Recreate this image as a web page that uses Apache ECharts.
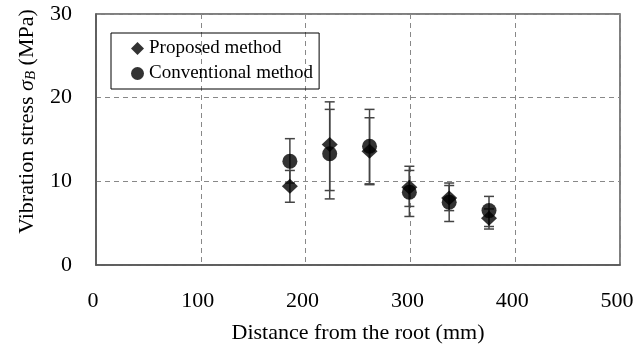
<!DOCTYPE html>
<html>
<head>
<meta charset="UTF-8">
<title>vibration stress</title>
<script src="https://cdn.jsdelivr.net/npm/echarts@6/dist/echarts.min.js"></script>
<style>
    html, body { margin: 0; padding: 0; background: #fff; }
    #main { width: 644px; height: 350px; }
</style>
</head>
<body>
<div id="main"></div>
<script type="text/javascript">
    // distance from the root (mm)
    var distance = [185, 223, 261, 299, 337, 375];

    // proposed method: value and error bar ends (MPa)
    var proposed     = [9.4, 14.4, 13.6, 9.3, 8.0, 5.6];
    var proposedLow  = [7.5, 8.9, 9.7, 7.0, 6.5, 4.3];
    var proposedHigh = [11.3, 19.5, 17.6, 11.3, 9.5, 6.7];

    // conventional method
    var conventional     = [12.4, 13.3, 14.2, 8.7, 7.5, 6.5];
    var conventionalLow  = [9.8, 7.9, 9.6, 5.8, 5.2, 4.6];
    var conventionalHigh = [15.1, 18.6, 18.6, 11.8, 9.8, 8.2];

    var xTicks = [0, 100, 200, 300, 400, 500];
    var yTicks = [0, 10, 20, 30];

    var font = '"Liberation Serif", "Times New Roman", serif';

    function pairs(xs, ys) {
        return xs.map(function (x, i) { return [x, ys[i]]; });
    }

    function errorBars(lows, highs) {
        return {
            type: 'custom',
            silent: true,
            z: 1,
            encode: { x: 0, y: [1, 2] },
            renderItem: function (params, api) {
                var x = api.value(0);
                var lo = api.coord([x, api.value(1)]);
                var hi = api.coord([x, api.value(2)]);
                var w = 5;
                var st = { stroke: '#444', lineWidth: 1.5 };
                return {
                    type: 'group',
                    children: [
                        { type: 'line', shape: { x1: lo[0], y1: lo[1], x2: hi[0], y2: hi[1] }, style: st },
                        { type: 'line', shape: { x1: lo[0] - w, y1: lo[1], x2: lo[0] + w, y2: lo[1] }, style: st },
                        { type: 'line', shape: { x1: hi[0] - w, y1: hi[1], x2: hi[0] + w, y2: hi[1] }, style: st }
                    ]
                };
            },
            data: distance.map(function (d, i) { return [d, lows[i], highs[i]]; })
        };
    }

    var myChart = echarts.init(document.getElementById('main'));
    myChart.setOption({
        animation: false,
        textStyle: { fontFamily: font, color: '#000' },
        grid: {
            left: 96, right: 24, top: 14, bottom: 85,
            show: true, borderColor: '#555', borderWidth: 1.5
        },
        legend: {
            data: ['Proposed method', 'Conventional method'],
            orient: 'vertical',
            left: 111, top: 33,
            padding: [6, 6, 6, 20],
            itemGap: 6,
            itemWidth: 13, itemHeight: 13,
            borderColor: '#000', borderWidth: 1,
            textStyle: { fontFamily: font, fontSize: 19, color: '#000' }
        },
        xAxis: {
            type: 'value',
            min: xTicks[0], max: xTicks[xTicks.length - 1], interval: 100,
            name: 'Distance from the root (mm)',
            nameLocation: 'middle', nameGap: 57,
            nameTextStyle: { fontFamily: font, fontSize: 22, color: '#000' },
            axisLine: { lineStyle: { color: '#555', width: 1.5 } },
            axisTick: { show: false },
            axisLabel: { margin: 25, fontSize: 22, color: '#000', fontFamily: font, padding: [0, 6, 0, 0] },
            splitLine: { lineStyle: { type: [5, 4], color: '#888', width: 1 } }
        },
        yAxis: {
            type: 'value',
            min: yTicks[0], max: yTicks[yTicks.length - 1], interval: 10,
            name: 'Vibration stress {i|σ}{sub|B} (MPa)',
            nameLocation: 'middle', nameGap: 57,
            nameTextStyle: {
                fontFamily: font, fontSize: 22, color: '#000',
                padding: [0, 0, 0, 36],
                rich: {
                    i: { fontFamily: font, fontSize: 22, fontStyle: 'italic', color: '#000' },
                    sub: { fontFamily: font, fontSize: 15, fontStyle: 'italic', color: '#000', verticalAlign: 'bottom', padding: [8, 0, 0, 0] }
                }
            },
            axisLine: { show: true, lineStyle: { color: '#555', width: 1.5 } },
            axisTick: { show: false },
            axisLabel: { margin: 24, fontSize: 22, color: '#000', fontFamily: font },
            splitLine: { lineStyle: { type: [5, 4], color: '#888', width: 1 } }
        },
        series: [
            errorBars(proposedLow, proposedHigh),
            errorBars(conventionalLow, conventionalHigh),
            {
                name: 'Proposed method',
                type: 'scatter',
                symbol: 'diamond',
                symbolSize: [16, 15],
                itemStyle: { color: '#000' },
                z: 3,
                data: pairs(distance, proposed)
            },
            {
                name: 'Conventional method',
                type: 'scatter',
                symbol: 'circle',
                symbolSize: 15,
                itemStyle: { color: '#000' },
                z: 4,
                data: pairs(distance, conventional)
            }
        ]
    });
</script>
</body>
</html>
